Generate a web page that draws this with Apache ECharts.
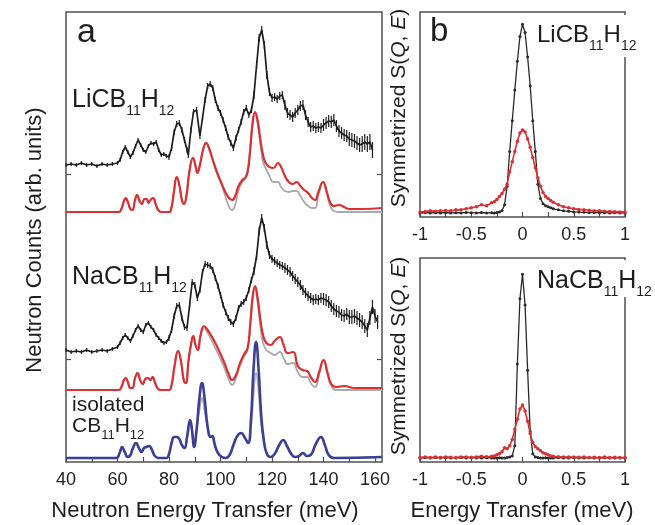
<!DOCTYPE html>
<html><head><meta charset="utf-8">
<script src="https://cdn.jsdelivr.net/npm/echarts@6.0.0/dist/echarts.min.js"></script>
<style>html,body{margin:0;padding:0;background:#fff}#c{width:655px;height:525px}</style>
</head><body><div id="c"></div>
<script>
// ---------- Panel a: vibrational spectra (arb. units, relative to each curve's own baseline) ----------
const liExpE = [40,42,44,46,48,50,52,54,56,58,60,61,62,63,64,65,66,67,68,69,70,71,72,73,74,75,76,77,78,79,80,81,82,83,84,85,86,87,87.5,88.5,89.5,90.7,92,93,94,95,96,97,98,99,100,101,102,103,104,105,106,107,108,109,110,111,112,113,114,115,116,117,118,119,120,121,122,123,124,125,126,127,128,129,130,131,132,133,134,135,136,137,138,139,140,141,142,143,144,145,146,147,148,149,150,151,152,153,154,155,156,157,158,159];
const liExpI = [-1,0,-1,1,-1,0,-2,0,-1,0,1,4,12,17,12,7,11,18,24,19,14,12,18,21,20,22,14,9,10,8,7,16,32,40,41,34,24,14,9,34,52,54,28,46,64,78,80,76,64,56,51,44,36,27,21,16,26,34,42,52,56,49,54,69,99,126,134,119,89,72,66,67,65,68,69,59,51,49,47,51,54,58,59,49,42,37,38,36,37,36,39,41,43,42,44,38,33,31,29,28,25,24,23,21,19,20,22,20,22,14];
const liExpErr = [2,2,2,2,2,2,2,2,2,2,2,2,2,2,2,2,2,2,2,2,2,2,2,2,2,2,2,2,2,2,3,3,3,3,3,3,3,3,3,3,3,3,3,3,3,3,3,3,3,3,3,3,3,3,3,3,3,3,3,3,3,3,3,4,4,4,4,4,4,4,4,4,4,4,4,5,5,5,5,5,5,5,5,5,5,5,5,5,5,5,6,6,6,6,6,6,6,6,6,6,7,7,7,7,7,8,8,8,8,8];

const naExpE = [40,42,44,46,48,50,52,54,56,58,60,61,62,63,64,65,66,67,68,69,70,71,72,73,74,75,76,77,78,79,80,81,82,83,84,85,86,87,88,89,90,91,92,93,94,95,96,97,98,99,100,101,102,103,104,105,106,107,108,109,110,111,112,113,114,115,116,117,118,119,120,121,122,123,124,125,126,127,128,129,130,131,132,133,134,135,136,137,138,139,140,141,142,143,144,145,146,147,148,149,150,151,152,153,154,155,156,157,158,159,160,161];
const naExpI = [1,-1,0,-1,1,-1,0,1,0,2,4,8,13,16,13,10,15,21,25,21,19,26,28,24,21,16,13,10,8,9,13,21,35,45,46,33,24,23,46,69,66,53,61,79,87,86,85,81,73,65,56,46,39,33,29,27,33,43,47,49,53,61,71,80,95,120,133,123,106,96,92,90,88,86,85,83,81,79,75,72,69,66,61,58,55,53,51,52,51,53,52,51,49,45,42,40,39,36,35,37,34,34,35,33,31,29,25,21,33,44,35,29];
const naExpErr = [2,2,2,2,2,2,2,2,2,2,2,2,2,2,2,2,2,2,2,2,2,2,2,2,2,2,2,2,2,2,3,3,3,3,3,3,3,3,3,3,3,3,3,3,3,3,3,3,3,3,3,3,3,3,3,3,3,3,3,3,3,3,3,4,4,4,4,4,4,4,4,4,4,4,4,5,5,5,5,5,5,5,5,5,5,5,5,5,5,5,6,6,6,6,6,6,6,6,6,6,7,7,7,7,7,7,7,7,7,7,7,7];

const liCalcE = [40,60.5,61.5,62.5,63.2,64,65,65.8,66.8,67.6,68.6,69.5,70.5,71.3,72,72.8,73.8,74.8,75.8,77,80,81,82,83,84,85,85.8,86.8,88,89.3,90.3,91,92,93.2,94.4,95.5,97,98.6,100,101.5,103,104.5,105.7,107,108.5,109.5,110.5,111.5,112.5,113.4,114.5,115.5,116.5,117.5,119,120.5,122.3,123.5,125,126.5,128,129.5,131,132.5,134,135.5,136.7,138,139.8,141.3,142.5,144,146,148,150,155,162.7];
const liCalcI = [0,0,3,11,14,10,3,2,12,17,11,8,13,13,9,12,14,8,2,0,0,5,22,35,27,12,8,17,42,54,46,39,47,62,69,64,52,40,31,22,15,12,16,26,32,34,40,62,90,100,90,72,57,49,45,44,49,45,36,30,28,30,26,22,19,14,12,20,30,20,10,6,7,5,3,3,4];
const liGrayI = [0,0,3,11,14,10,3,2,12,17,11,8,13,13,9,12,14,8,2,0,0,5,22,35,27,12,8,17,42,54,46,39,47,62,69,64,52,39,30,19,7,2,7,22,30,33,39,62,90,99,87,67,50,44,36,30,30,25,21,20,21,21,16,10,6,4,4,17,30,18,7,1,0,0,0,0,0];

const naCalcE = [40,60.5,61.5,62.5,63.2,64,65,65.8,66.8,67.8,68.8,69.8,70.8,71.8,72.8,73.6,74.6,75.8,77,80,81,82.2,83.5,84.7,85.7,86.5,87.6,88.5,89.4,90.3,91.2,92.2,93.6,95,96.5,98,99.8,101.5,103,104.5,106,107.6,109,110.5,111.5,112.5,113.4,114.4,115.5,116.5,117.8,119.5,121,123,124.5,126,128.2,130,131.8,133.6,135,136.7,138.3,140,141.5,143,145,148,152,162.7];
const naCalcI = [0,0,3,10,12,8,2,2,12,17,10,6,11,12,10,13,7,1,0,0,5,25,39,28,10,7,30,45,54,45,40,54,64,60,54,47,37,27,17,10,15,27,35,42,65,94,104,92,70,55,47,45,49,53,45,37,38,24,20,19,13,8,18,30,18,6,3,4,2,2];
const naGrayI = [0,0,3,10,12,8,2,2,12,17,10,6,11,12,10,13,7,1,0,0,5,25,39,28,10,7,30,45,54,45,40,54,62,57,50,42,32,22,12,5,12,25,33,40,63,92,102,88,63,47,40,37,35,38,32,26,27,18,13,13,7,3,16,30,16,4,0,0,0,0];

const isoE = [40,59.5,60.8,61.8,62.8,64,65,66,67.2,68.3,69.3,70.3,71.3,72.3,73.4,74.5,76,79,80,81,82,83,84,85,86,87,88.2,89,89.7,90.7,91.8,92.8,93.8,95,96.2,96.8,97.8,99,100.5,102,103.5,105,106.5,108,109.5,110.7,111.8,112.8,113.8,114.8,115.8,116.8,118,119.5,121,122.8,124.3,125.8,127.5,129,130.5,132,133.5,135,137,139,140.5,142,144,162.7];
const isoI = [0,0,5,11,6,1,3,10,15,10,6,10,11,12,8,2,0,0,4,15,21,21,19,13,10,21,38,26,11,28,60,75,60,31,21,22,13,5,1,0,3,13,22,25,20,15,38,88,116,88,43,18,4,1,4,13,18,12,4,1,2,5,2,3,14,21,13,3,0,1];
const isoGrayI = [0,0,5,11,6,1,3,10,15,10,6,10,11,12,8,2,0,0,4,15,21,21,19,13,10,21,38,26,11,28,48,60,48,31,21,22,13,5,1,0,3,13,22,25,20,15,30,63,85,66,33,18,4,1,4,13,18,12,4,1,2,5,2,3,14,21,13,3,0,1];

// vertical stacking offsets of the curves (arb. units)
const offLiExp = 298, offLiCalc = 250, offNaExp = 111, offNaCalc = 72, offIso = 4;
const aTicks = [40,60,80,100,120,140,160];

// ---------- Panel b: quasielastic spectra ----------
const qeE = [-1,-0.95,-0.9,-0.85,-0.8,-0.75,-0.7,-0.65,-0.6,-0.55,-0.5,-0.45,-0.4,-0.35,-0.3,-0.275,-0.25,-0.225,-0.2,-0.175,-0.15,-0.125,-0.1,-0.075,-0.05,-0.025,0,0.025,0.05,0.075,0.1,0.125,0.15,0.175,0.2,0.225,0.25,0.275,0.3,0.35,0.4,0.45,0.5,0.55,0.6,0.65,0.7,0.75,0.8,0.85,0.9,0.95,1];
const liQeBlack = [0.02,0.022,0.02,0.021,0.02,0.022,0.02,0.021,0.02,0.022,0.021,0.02,0.022,0.02,0.021,0.02,0.022,0.025,0.03,0.06,0.15,0.32,0.47,0.62,0.76,0.88,0.94,0.9,0.78,0.64,0.47,0.32,0.16,0.09,0.065,0.055,0.05,0.045,0.04,0.035,0.03,0.028,0.025,0.024,0.023,0.022,0.022,0.021,0.021,0.02,0.021,0.02,0.02];
const liQeRed = [0.025,0.027,0.03,0.028,0.03,0.032,0.03,0.035,0.035,0.04,0.045,0.05,0.06,0.055,0.07,0.075,0.085,0.1,0.115,0.135,0.16,0.22,0.27,0.32,0.37,0.41,0.425,0.415,0.38,0.34,0.29,0.24,0.19,0.15,0.12,0.1,0.09,0.08,0.072,0.06,0.05,0.045,0.04,0.037,0.035,0.033,0.03,0.03,0.028,0.027,0.026,0.025,0.025];
const naQeBlack = [0.02,0.021,0.02,0.022,0.02,0.021,0.02,0.02,0.022,0.02,0.021,0.02,0.02,0.021,0.02,0.02,0.02,0.021,0.02,0.02,0.022,0.025,0.03,0.08,0.48,0.8,0.92,0.77,0.45,0.15,0.04,0.025,0.022,0.02,0.02,0.021,0.02,0.02,0.02,0.021,0.02,0.02,0.022,0.02,0.02,0.021,0.02,0.02,0.021,0.02,0.02,0.02,0.02];
const naQeRed = [0.022,0.025,0.022,0.024,0.022,0.025,0.023,0.022,0.025,0.024,0.023,0.025,0.028,0.026,0.028,0.03,0.035,0.04,0.05,0.07,0.065,0.08,0.11,0.16,0.21,0.26,0.28,0.25,0.2,0.14,0.095,0.075,0.065,0.055,0.045,0.04,0.035,0.03,0.028,0.026,0.025,0.024,0.025,0.023,0.024,0.022,0.023,0.022,0.024,0.022,0.023,0.022,0.022];
const bTicks = [-1,-0.5,0,0.5,1];

// ---------- chart ----------
const FONT = "'Liberation Sans', Arial, Helvetica, sans-serif";
const FRAME = '#505050';
const INK = '#1e1e1e';
const RED = '#dc2f33', GRAY = '#a9a9a9', BLUE = '#3b3f95';

const pairs = (E, I, off) => E.map((e, i) => [e, off + I[i]]);
const triples = (E, I, err, off) => E.map((e, i) => [e, off + I[i], err[i]]);

function calcLine(E, I, off, color, width, z) {
  return { type: 'line', xAxisIndex: 0, yAxisIndex: 0, data: pairs(E, I, off), smooth: 0.5,
    showSymbol: false, symbol: 'none', lineStyle: { color: color, width: width }, z: z, silent: true };
}
function expLine(E, I, off) {
  return { type: 'line', xAxisIndex: 0, yAxisIndex: 0, data: pairs(E, I, off), showSymbol: false, symbol: 'none',
    lineStyle: { color: INK, width: 1.7 }, z: 6, silent: true };
}
function errBars(E, I, err, off) {
  return { type: 'custom', xAxisIndex: 0, yAxisIndex: 0, data: triples(E, I, err, off), z: 6, silent: true,
    encode: { x: 0, y: 1 },
    renderItem: function (params, api) {
      const x = api.value(0), y = api.value(1), e = api.value(2);
      const p1 = api.coord([x, y - e]), p2 = api.coord([x, y + e]);
      return { type: 'line', shape: { x1: p1[0], y1: p1[1], x2: p2[0], y2: p2[1] },
        style: { stroke: INK, lineWidth: 1.2 } };
    } };
}
function qeLine(idx, vals, color, width, sym, z) {
  return { type: 'line', xAxisIndex: idx, yAxisIndex: idx + 1, data: qeE.map((e, i) => [e, vals[i]]),
    showSymbol: true, symbol: 'circle', symbolSize: sym, itemStyle: { color: color },
    lineStyle: { color: color, width: width }, z: z, silent: true };
}

const ctx = document.createElement('canvas').getContext('2d');
function tw(t, size) { ctx.font = size + 'px ' + FONT; return ctx.measureText(t).width; }
function txt(x, baseline, t, size, extra) {
  return Object.assign({ type: 'text', x: x, y: baseline - 0.31 * size, z: 50,
    style: { text: t, font: size + 'px ' + FONT, fill: INK, textAlign: 'left', textVerticalAlign: 'middle' } }, extra || {});
}
function chem(x, baseline, parts, big, small, drop) {
  const els = []; let cx = x;
  parts.forEach(function (p) {
    const sub = p[1]; const s = sub ? small : big;
    els.push(txt(cx, baseline + (sub ? drop : 0), p[0], s));
    cx += tw(p[0], s);
  });
  return els;
}

const graphics = [];
graphics.push(txt(77, 43, 'a', 34));
graphics.push(txt(430, 42, 'b', 33));
chem(72, 108, [['LiCB', 0], ['11', 1], ['H', 0], ['12', 1]], 25, 14, 7).forEach(e => graphics.push(e));
chem(72, 285, [['NaCB', 0], ['11', 1], ['H', 0], ['12', 1]], 25, 14, 7).forEach(e => graphics.push(e));
graphics.push(txt(72, 412, 'isolated', 21));
chem(72, 433, [['CB', 0], ['11', 1], ['H', 0], ['12', 1]], 21, 13, 6).forEach(e => graphics.push(e));
graphics.push({ type: 'rect', shape: { x: 534, y: 15, width: 121, height: 42 }, style: { fill: '#fff' }, z: 40 });
chem(537, 43, [['LiCB', 0], ['11', 1], ['H', 0], ['12', 1]], 24, 14, 7).forEach(e => graphics.push(e));
graphics.push({ type: 'rect', shape: { x: 534, y: 260, width: 121, height: 37 }, style: { fill: '#fff' }, z: 40 });
chem(537, 289, [['NaCB', 0], ['11', 1], ['H', 0], ['12', 1]], 25, 14, 7).forEach(e => graphics.push(e));

graphics.push({ type: 'text', x: 35, y: 240, rotation: Math.PI / 2, z: 50,
  style: { text: 'Neutron Counts (arb. units)', font: '22px ' + FONT, fill: INK, textAlign: 'center', textVerticalAlign: 'middle' } });
graphics.push({ type: 'text', x: 205, y: 511, z: 50,
  style: { text: 'Neutron Energy Transfer (meV)', font: '22px ' + FONT, fill: INK, textAlign: 'center', textVerticalAlign: 'middle' } });
graphics.push({ type: 'text', x: 522, y: 511, z: 50,
  style: { text: 'Energy Transfer (meV)', font: '22px ' + FONT, fill: INK, textAlign: 'center', textVerticalAlign: 'middle' } });
[108, 356].forEach(function (cy) {
  graphics.push({ type: 'text', x: 399, y: cy, rotation: Math.PI / 2, z: 50,
    style: { text: '{n|Symmetrized S(}{i|Q}{n|, }{i|E}{n|)}', fill: INK, textAlign: 'center', textVerticalAlign: 'middle',
      rich: { n: { fontSize: 21, fontFamily: FONT, fill: INK, color: INK },
              i: { fontSize: 21, fontFamily: FONT, fontStyle: 'italic', fill: INK, color: INK } } } });
});

const gridBase = { show: true, borderColor: FRAME, borderWidth: 1.5, backgroundColor: 'transparent', containLabel: false };
const labelStyle = { fontSize: 18, color: '#222', fontFamily: FONT, margin: 9, showMaxLabel: false, showMinLabel: true };
const tickStyle = { inside: true, length: 5, lineStyle: { color: FRAME, width: 1.2 } };

const option = {
  animation: false,
  backgroundColor: '#fff',
  grid: [
    Object.assign({ left: 66, top: 12, width: 316, height: 450 }, gridBase),
    Object.assign({ left: 420, top: 12, width: 205, height: 205 }, gridBase),
    Object.assign({ left: 420, top: 258, width: 205, height: 204 }, gridBase)
  ],
  xAxis: [
    { gridIndex: 0, type: 'value', min: 40, max: 162.7, interval: 10, axisLine: { show: false }, splitLine: { show: false },
      axisTick: tickStyle,
      axisLabel: Object.assign({}, labelStyle, { formatter: v => aTicks.indexOf(Math.round(v * 1000) / 1000) >= 0 ? String(v) : '' }) },
    { gridIndex: 1, type: 'value', min: -1, max: 1, interval: 0.25, axisLine: { show: false }, splitLine: { show: false },
      axisTick: tickStyle,
      axisLabel: Object.assign({}, labelStyle, { showMaxLabel: true, formatter: v => { const r = Math.round(v * 1000) / 1000; return bTicks.indexOf(r) >= 0 ? String(r) : ''; } }) },
    { gridIndex: 2, type: 'value', min: -1, max: 1, interval: 0.25, axisLine: { show: false }, splitLine: { show: false },
      axisTick: tickStyle,
      axisLabel: Object.assign({}, labelStyle, { showMaxLabel: true, formatter: v => { const r = Math.round(v * 1000) / 1000; return bTicks.indexOf(r) >= 0 ? String(r) : ''; } }) }
  ],
  yAxis: [
    { gridIndex: 0, type: 'value', min: 0, max: 450, axisLine: { show: false }, splitLine: { show: false }, axisLabel: { show: false },
      axisTick: Object.assign({}, tickStyle, { customValues: [103, 288] }) },
    { gridIndex: 0, type: 'value', position: 'right', min: 0, max: 450, axisLine: { show: false }, splitLine: { show: false }, axisLabel: { show: false },
      axisTick: Object.assign({}, tickStyle, { customValues: [103, 288] }) },
    { gridIndex: 1, type: 'value', min: 0, max: 1, axisLine: { show: false }, splitLine: { show: false }, axisLabel: { show: false }, axisTick: { show: false } },
    { gridIndex: 2, type: 'value', min: 0, max: 1, axisLine: { show: false }, splitLine: { show: false }, axisLabel: { show: false }, axisTick: { show: false } }
  ],
  series: [
    calcLine(liCalcE, liGrayI, offLiCalc, GRAY, 1.8, 2),
    calcLine(liCalcE, liCalcI, offLiCalc, RED, 2.2, 3),
    calcLine(naCalcE, naGrayI, offNaCalc, GRAY, 1.8, 2),
    calcLine(naCalcE, naCalcI, offNaCalc, RED, 2.2, 3),
    calcLine(isoE, isoGrayI, offIso, GRAY, 1.8, 2),
    calcLine(isoE, isoI, offIso, BLUE, 2.6, 3),
    errBars(liExpE, liExpI, liExpErr, offLiExp),
    expLine(liExpE, liExpI, offLiExp),
    errBars(naExpE, naExpI, naExpErr, offNaExp),
    expLine(naExpE, naExpI, offNaExp),
    qeLine(1, liQeBlack, '#2a2a2a', 1.3, 3, 4),
    qeLine(1, liQeRed, RED, 1.6, 3.5, 5),
    qeLine(2, naQeBlack, '#2a2a2a', 1.3, 3, 4),
    qeLine(2, naQeRed, RED, 1.6, 3.5, 5)
  ],
  graphic: { elements: graphics }
};
const chart = echarts.init(document.getElementById('c'), null, { renderer: 'canvas' });
chart.setOption(option);
</script></body></html>
